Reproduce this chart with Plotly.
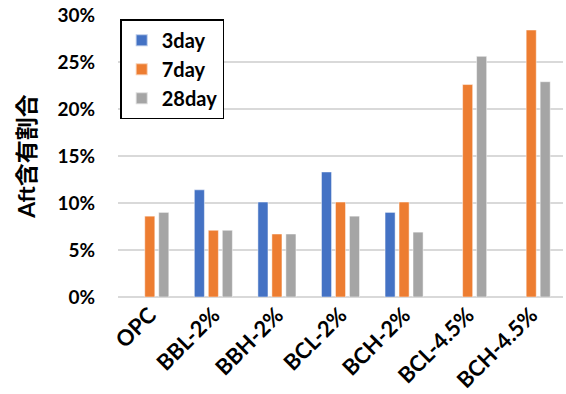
import plotly.graph_objects as go

categories = ["OPC", "BBL-2%", "BBH-2%", "BCL-2%", "BCH-2%", "BCL-4.5%", "BCH-4.5%"]
day3 = [None, 0.114, 0.101, 0.133, 0.090, None, None]
day7 = [0.086, 0.071, 0.067, 0.101, 0.101, 0.226, 0.284]
day28 = [0.090, 0.071, 0.067, 0.086, 0.069, 0.256, 0.229]
series_names = ["3day", "7day", "28day"]
colors = ["#4472C4", "#ED7D31", "#A5A5A5"]
yticks = [0, 0.05, 0.10, 0.15, 0.20, 0.25, 0.30]
ytick_labels = ["0%", "5%", "10%", "15%", "20%", "25%", "30%"]

font_family = "Lato, 'Noto Sans CJK JP', sans-serif"

fig = go.Figure()
for name, vals, col in zip(series_names, [day3, day7, day28], colors):
    fig.add_trace(go.Bar(
        x=categories, y=vals, name=name,
        marker=dict(color=col, line=dict(color="rgba(255,255,255,0.6)", width=0.8)),
    ))

fig.update_layout(
    width=566, height=394,
    margin=dict(l=118, r=3, t=15, b=97),
    paper_bgcolor="white", plot_bgcolor="white",
    barmode="group", bargap=0.34, bargroupgap=0.28,
    font=dict(family=font_family, color="black"),
    legend=dict(
        x=0.005, y=0.985, xanchor="left", yanchor="top",
        bordercolor="black", borderwidth=1.5, bgcolor="white",
        font=dict(size=20, family=font_family, weight="bold"),
        itemsizing="constant",
    ),
    yaxis=dict(
        range=[0, 0.30], tickvals=yticks, ticktext=ytick_labels,
        showgrid=True, gridcolor="#D9D9D9", gridwidth=1.5,
        zeroline=True, zerolinecolor="#D9D9D9", zerolinewidth=1.5,
        tickfont=dict(size=19, family=font_family, weight="bold"),
        ticks="", ticklabelstandoff=22, automargin=False,
        title=dict(text="Aft含有割合", font=dict(size=23, family=font_family, weight="bold"), standoff=15),
    ),
    xaxis=dict(
        tickangle=-45, showline=False, ticks="", automargin=False,
        tickfont=dict(size=22, family=font_family, weight="bold"),
    ),
)

fig.write_html(
    "out.html",
    config={"displayModeBar": False},
    post_script="document.body.style.margin='0';document.body.style.overflow='hidden';",
)
